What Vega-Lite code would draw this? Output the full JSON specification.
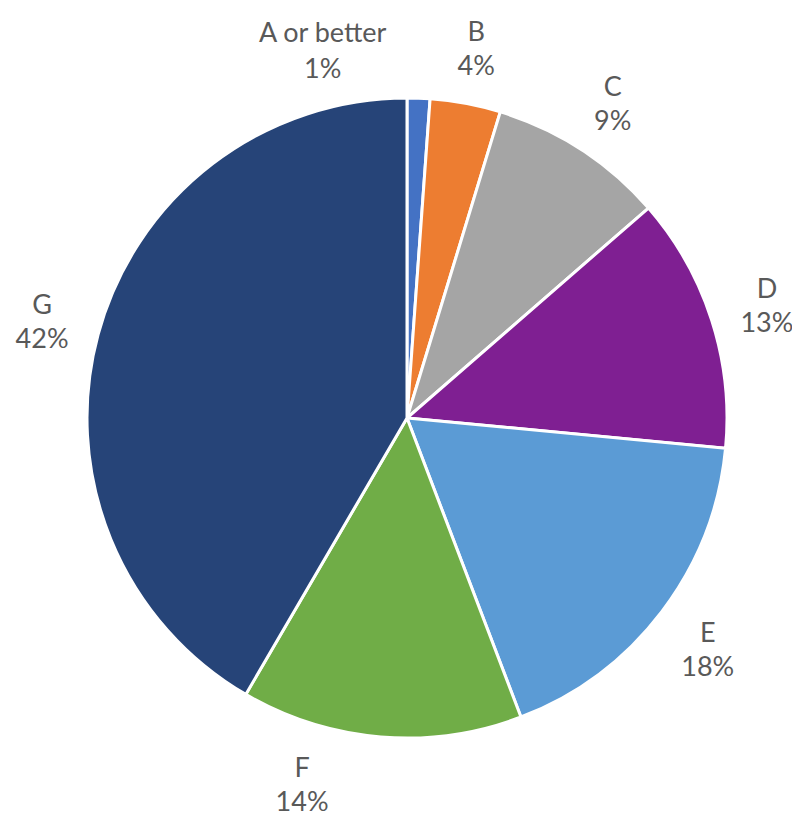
{
  "$schema": "https://vega.github.io/schema/vega-lite/v6.json",
  "width": 770,
  "height": 810,
  "autosize": {"type": "none"},
  "padding": {"left": 22, "top": 13, "right": 0, "bottom": 0},
  "background": "white",
  "view": {"stroke": null},
  "data": {
    "values": [
      {"grade": "A or better", "value": 0.0115},
      {"grade": "B", "value": 0.0356},
      {"grade": "C", "value": 0.089},
      {"grade": "D", "value": 0.129},
      {"grade": "E", "value": 0.177},
      {"grade": "F", "value": 0.142},
      {"grade": "G", "value": 0.416}
    ]
  },
  "encoding": {
    "theta": {"field": "value", "type": "quantitative", "stack": true},
    "order": {"field": "grade", "type": "ordinal"}
  },
  "layer": [
    {
      "mark": {"type": "arc", "outerRadius": 320, "stroke": "white", "strokeWidth": 3},
      "encoding": {
        "color": {
          "field": "grade",
          "type": "nominal",
          "legend": null,
          "scale": {
            "domain": ["A or better", "B", "C", "D", "E", "F", "G"],
            "range": ["#4472C4", "#ED7D31", "#A5A5A5", "#7F1F92", "#5B9BD5", "#70AD47", "#264478"]
          }
        }
      }
    },
    {
      "mark": {"type": "text", "radius": 378, "dy": -13, "font": "Lato", "fontSize": 27, "fill": "#595959", "align": "center", "baseline": "middle"},
      "encoding": {"text": {"condition": {"test": "datum.grade != 'A or better' && datum.grade != 'F'", "field": "grade", "type": "nominal"}, "value": ""}}
    },
    {
      "mark": {"type": "text", "radius": 378, "dy": 21, "font": "Lato", "fontSize": 27, "fill": "#595959", "align": "center", "baseline": "middle"},
      "encoding": {"text": {"condition": {"test": "datum.grade != 'A or better' && datum.grade != 'F'", "field": "value", "type": "quantitative", "format": ".0%"}, "value": ""}}
    },
    {
      "mark": {"type": "text", "radius": 378, "dx": -98, "dy": -6, "font": "Lato", "fontSize": 27, "fill": "#595959", "align": "center", "baseline": "middle"},
      "encoding": {"text": {"condition": {"test": "datum.grade == 'A or better'", "field": "grade", "type": "nominal"}, "value": ""}}
    },
    {
      "mark": {"type": "text", "radius": 378, "dx": -98, "dy": 30, "font": "Lato", "fontSize": 27, "fill": "#595959", "align": "center", "baseline": "middle"},
      "encoding": {"text": {"condition": {"test": "datum.grade == 'A or better'", "field": "value", "type": "quantitative", "format": ".0%"}, "value": ""}}
    },
    {
      "mark": {"type": "text", "radius": 378, "dx": -74, "dy": -26, "font": "Lato", "fontSize": 27, "fill": "#595959", "align": "center", "baseline": "middle"},
      "encoding": {"text": {"condition": {"test": "datum.grade == 'F'", "field": "grade", "type": "nominal"}, "value": ""}}
    },
    {
      "mark": {"type": "text", "radius": 378, "dx": -74, "dy": 8, "font": "Lato", "fontSize": 27, "fill": "#595959", "align": "center", "baseline": "middle"},
      "encoding": {"text": {"condition": {"test": "datum.grade == 'F'", "field": "value", "type": "quantitative", "format": ".0%"}, "value": ""}}
    }
  ]
}
